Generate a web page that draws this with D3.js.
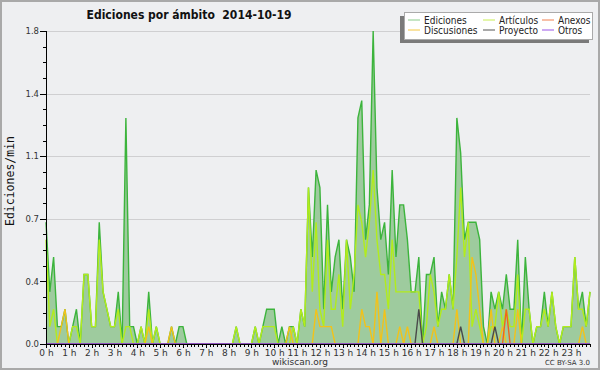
<!DOCTYPE html>
<html>
<head>
<meta charset="utf-8">
<style>
/*	page and chart styles	*/
body {
  margin: 0;
  background: #eeeff1;
}

.grid line {
  stroke: #cfcfd1;
  stroke-width: 1px;
}

.axis path,
.axis line {
  stroke: #000;
  shape-rendering: crispEdges;
}

.axis text {
  fill: #333;
  font-family: "DejaVu Sans", sans-serif;
}

.series {
  fill: none;
  stroke-width: 1.4px;
  stroke-linejoin: miter;
}

.legend text {
  font: 10px "DejaVu Sans Condensed", "DejaVu Sans", sans-serif;
  fill: #222;
}

.title {
  white-space: pre;
}
</style>
</head>
<body>
<svg id="chart" width="600" height="370"></svg>

<script src="https://cdn.jsdelivr.net/npm/d3@7"></script>
<script>

//	data: edits per minute, one value per 10 minutes, six per hour
var ediciones = [
  0.7, 0.3, 0.5, 0.1, 0.1, 0.2,
  0, 0.1, 0.2, 0, 0.4, 0.4,
  0.1, 0.1, 0.7, 0.3, 0.2, 0.1,
  0.1, 0.3, 0, 1.3, 0.1, 0.1,
  0, 0.1, 0, 0.3, 0, 0.1,
  0, 0, 0, 0.1, 0, 0.1,
  0.1, 0, 0, 0, 0, 0,
  0, 0, 0, 0, 0, 0,
  0, 0, 0.1, 0, 0, 0,
  0, 0.1, 0, 0.1, 0.2, 0.2,
  0.2, 0, 0.1, 0, 0.1, 0.1,
  0, 0.2, 0.1, 0.9, 0.5, 1.0,
  0.9, 0.2, 0.8, 0.3, 0.5, 0.6,
  0.2, 0.6, 0.5, 0.3, 1.3, 1.4,
  0.6, 0.8, 1.8, 0.9, 0.6, 0.7,
  0.4, 1.0, 0.5, 0.8, 0.8, 0.6,
  0.3, 0.3, 0.5, 0, 0.4, 0.4,
  0.5, 0.1, 0.3, 0.2, 0.4, 0.2,
  1.3, 1.1, 0.6, 0.7, 0.7, 0.7,
  0.6, 0.1, 0, 0.3, 0.2, 0.3,
  0.2, 0.4, 0.2, 0.2, 0.6, 0,
  0.5, 0.2, 0, 0.1, 0.1, 0.3,
  0.1, 0.3, 0.1, 0, 0.1, 0.1,
  0.1, 0.5, 0.2, 0.3, 0.1, 0.3
];

var articulos = [
  0.6, 0.1, 0.2, 0, 0, 0,
  0, 0.1, 0.1, 0, 0.4, 0.4,
  0.1, 0.1, 0.6, 0.3, 0.2, 0.1,
  0.1, 0.2, 0, 0.1, 0.1, 0,
  0, 0.1, 0, 0.2, 0, 0.1,
  0, 0, 0, 0, 0, 0,
  0, 0, 0, 0, 0, 0,
  0, 0, 0, 0, 0, 0,
  0, 0, 0.1, 0, 0, 0,
  0, 0.1, 0, 0.1, 0.1, 0.1,
  0.1, 0, 0, 0, 0, 0.1,
  0, 0.2, 0.1, 0.9, 0.3, 0.7,
  0.2, 0.1, 0.6, 0.2, 0.2, 0.4,
  0.1, 0.6, 0.2, 0.4, 0.8, 0.7,
  0.5, 0.7, 1.0, 0.6, 0.4, 0.4,
  0.2, 0.6, 0.3, 0.3, 0.3, 0.3,
  0.3, 0.3, 0.3, 0, 0.1, 0.4,
  0.3, 0.1, 0.2, 0.2, 0.4, 0.2,
  0.5, 0.9, 0.5, 0.7, 0.1, 0.2,
  0.1, 0, 0, 0.1, 0.1, 0.3,
  0.1, 0.2, 0.1, 0.1, 0.4, 0,
  0.2, 0.2, 0, 0.1, 0.1, 0.2,
  0.1, 0.3, 0.1, 0, 0.1, 0.1,
  0.1, 0.5, 0.2, 0.2, 0.1, 0.3
];

var discusiones = [
  0, 0, 0, 0, 0.1, 0.2,
  0, 0, 0, 0, 0, 0,
  0, 0, 0, 0, 0, 0,
  0, 0, 0, 0, 0, 0,
  0, 0, 0, 0.1, 0, 0,
  0, 0, 0, 0.1, 0, 0,
  0, 0, 0, 0, 0, 0,
  0, 0, 0, 0, 0, 0,
  0, 0, 0, 0, 0, 0,
  0, 0, 0, 0, 0, 0,
  0, 0, 0, 0, 0.1, 0,
  0, 0, 0, 0, 0, 0.2,
  0.1, 0.1, 0.1, 0.1, 0, 0,
  0, 0, 0, 0, 0, 0.2,
  0.1, 0.1, 0, 0.3, 0, 0.2,
  0, 0, 0, 0.1, 0, 0.1,
  0, 0, 0, 0, 0, 0,
  0.1, 0, 0, 0, 0, 0,
  0.2, 0, 0, 0, 0.5, 0.4,
  0.2, 0, 0, 0.2, 0, 0,
  0.1, 0, 0, 0, 0.2, 0,
  0, 0, 0, 0, 0, 0,
  0, 0, 0, 0, 0, 0,
  0, 0, 0, 0.1, 0, 0
];

var proyecto = [
  0, 0, 0, 0, 0, 0,
  0, 0, 0, 0, 0, 0,
  0, 0, 0, 0, 0, 0,
  0, 0, 0, 0, 0, 0,
  0, 0, 0, 0, 0, 0,
  0, 0, 0, 0, 0, 0,
  0, 0, 0, 0, 0, 0,
  0, 0, 0, 0, 0, 0,
  0, 0, 0, 0, 0, 0,
  0, 0, 0, 0, 0, 0,
  0, 0, 0, 0, 0, 0,
  0, 0, 0, 0, 0, 0,
  0, 0, 0, 0, 0, 0,
  0, 0, 0, 0, 0, 0,
  0, 0, 0, 0, 0, 0,
  0, 0, 0, 0, 0, 0,
  0, 0, 0.2, 0, 0, 0,
  0, 0, 0, 0, 0, 0,
  0, 0.1, 0, 0, 0, 0,
  0, 0, 0, 0, 0.1, 0,
  0, 0, 0, 0, 0, 0,
  0, 0, 0, 0, 0, 0,
  0, 0, 0, 0, 0, 0,
  0, 0, 0, 0, 0, 0
];

var anexos = [
  0, 0, 0, 0, 0, 0,
  0, 0, 0, 0, 0, 0,
  0, 0, 0, 0, 0, 0,
  0, 0, 0, 0, 0, 0,
  0, 0, 0, 0, 0, 0,
  0, 0, 0, 0, 0, 0,
  0, 0, 0, 0, 0, 0,
  0, 0, 0, 0, 0, 0,
  0, 0, 0, 0, 0, 0,
  0, 0, 0, 0, 0, 0,
  0, 0, 0, 0, 0, 0,
  0, 0, 0, 0, 0, 0,
  0, 0, 0, 0, 0, 0,
  0, 0, 0, 0, 0, 0,
  0, 0, 0, 0, 0, 0,
  0, 0, 0, 0, 0, 0,
  0, 0, 0, 0, 0, 0,
  0, 0, 0, 0, 0, 0,
  0, 0, 0, 0, 0, 0,
  0, 0, 0, 0, 0, 0,
  0, 0.2, 0, 0, 0, 0,
  0, 0, 0, 0, 0, 0,
  0, 0, 0, 0, 0, 0,
  0, 0, 0, 0, 0, 0
];

var otros = [
  0, 0, 0, 0, 0, 0,
  0, 0, 0, 0, 0, 0,
  0, 0, 0, 0, 0, 0,
  0, 0, 0, 0, 0, 0,
  0, 0, 0, 0, 0, 0,
  0, 0, 0, 0, 0, 0,
  0, 0, 0, 0, 0, 0,
  0, 0, 0, 0, 0, 0,
  0, 0, 0, 0, 0, 0,
  0, 0, 0, 0, 0, 0,
  0, 0, 0, 0, 0, 0,
  0, 0, 0, 0, 0, 0,
  0, 0, 0, 0, 0, 0,
  0, 0, 0, 0, 0, 0,
  0, 0, 0, 0, 0, 0,
  0, 0, 0, 0, 0, 0,
  0, 0, 0, 0, 0, 0,
  0, 0, 0, 0, 0, 0,
  0, 0, 0, 0, 0, 0,
  0, 0, 0, 0, 0, 0,
  0, 0, 0, 0, 0, 0,
  0, 0, 0, 0, 0, 0,
  0, 0, 0, 0, 0, 0,
  0, 0, 0, 0, 0, 0
];

var hours = d3.range(24);
var yTicks = [0, 0.36, 0.72, 1.08, 1.44, 1.8];

//	legend entries, in the picture's column order
var legendNames = ["Ediciones", "Discusiones", "Artículos", "Proyecto", "Anexos", "Otros"];
var legendColors = ["#8bcc8b", "#f5c842", "#c8ee55", "#555555", "#f08050", "#9b55e8"];

//	svg selection and sizing
var svg = d3.select("#chart"),
    width = 600,
    height = 370,
    margin = {left: 46, right: 10, top: 31, bottom: 26};

svg.append("rect")
    .attr("x", 1).attr("y", 1)
    .attr("width", width - 2).attr("height", height - 2)
    .attr("fill", "#eeeff1")
    .attr("stroke", "#a9a9a9")
    .attr("stroke-width", 2);

var x = d3.scaleLinear()
    .domain([0, ediciones.length - 1])
    .range([margin.left, width - margin.right]);

var y = d3.scaleLinear()
    .domain([0, 1.8])
    .range([height - margin.bottom, margin.top]);

//	horizontal grid
svg.append("g")
    .attr("class", "grid")
  .selectAll("line")
  .data(yTicks.slice(1))
  .enter().append("line")
    .attr("x1", x.range()[0])
    .attr("x2", x.range()[1])
    .attr("y1", function(d) { return Math.round(y(d)) + 0.5; })
    .attr("y2", function(d) { return Math.round(y(d)) + 0.5; });

//	area under total edits
var area = d3.area()
    .x(function(d, i) { return x(i); })
    .y0(y(0))
    .y1(function(d) { return y(d); });

svg.append("path")
    .datum(ediciones)
    .attr("fill", "#9ecb9e")
    .attr("d", area);

var line = d3.line()
    .x(function(d, i) { return x(i); })
    .y(function(d) { return y(d); });

var series = [
  {values: ediciones, color: "#3cb43c"},
  {values: articulos, color: "#b2ec1c"},
  {values: discusiones, color: "#f2c21a"},
  {values: anexos, color: "#f0641e"},
  {values: proyecto, color: "#4a4a4a"},
  {values: otros, color: "#9b55e8"}
];

svg.append("g").selectAll("path")
  .data(series)
  .enter().append("path")
    .attr("class", "series")
    .attr("stroke", function(d) { return d.color; })
    .attr("d", function(d) { return line(d.values); });

//	y axis, major and minor ticks
var yMinor = d3.range(0, 1.8001, 0.09);

svg.append("g")
    .attr("class", "axis")
    .attr("transform", "translate(" + margin.left + ",0)")
    .call(d3.axisLeft(y).tickValues(yMinor).tickSize(3).tickFormat(""))
    .call(function(g) { g.select(".domain").remove(); });

svg.append("g")
    .attr("class", "axis")
    .attr("transform", "translate(" + margin.left + ",0)")
    .call(d3.axisLeft(y).tickValues(yTicks).tickSize(6).tickPadding(1)
          .tickFormat(d3.format(".1f")))
    .call(function(g) {
      g.select(".domain").attr("d", "M0.5," + y(1.8) + "V" + (y(0) + 0.5));
      g.selectAll("text").attr("font-size", 8.5).attr("fill", "#444");
    });

//	x axis, 10 minute ticks and hour labels
svg.append("g")
    .attr("class", "axis")
    .attr("transform", "translate(0," + y(0) + ")")
    .call(d3.axisBottom(x).tickValues(d3.range(ediciones.length)).tickSize(3).tickFormat(""))
    .call(function(g) { g.select(".domain").attr("d", "M" + x(0) + ",0.5H" + (x.range()[1] + 1)); });

svg.append("g")
    .attr("class", "axis")
    .attr("transform", "translate(0," + y(0) + ")")
    .call(d3.axisBottom(x).tickValues(hours.map(function(h) { return h * 6; }))
          .tickSize(4).tickPadding(2)
          .tickFormat(function(d) { return (d / 6) + " h"; }))
    .call(function(g) {
      g.select(".domain").remove();
      g.selectAll("text").attr("font-size", 9).attr("fill", "#222");
    });

//	titles
svg.append("text")
    .attr("class", "title")
    .attr("x", 189)
    .attr("y", 19)
    .attr("text-anchor", "middle")
    .attr("font-family", "DejaVu Sans Condensed, DejaVu Sans, sans-serif")
    .attr("font-weight", "bold")
    .attr("font-size", 12)
    .attr("fill", "#111")
    .text("Ediciones por ámbito  2014-10-19");

svg.append("text")
    .attr("transform", "translate(14,181) rotate(-90)")
    .attr("text-anchor", "middle")
    .attr("font-family", "DejaVu Sans Mono, monospace")
    .attr("font-size", 11.5)
    .attr("fill", "#111")
    .text("Ediciones/min");

svg.append("text")
    .attr("x", 300)
    .attr("y", 365)
    .attr("text-anchor", "middle")
    .attr("font-family", "DejaVu Sans, sans-serif")
    .attr("font-size", 9)
    .attr("fill", "#333")
    .text("wikiscan.org");

svg.append("text")
    .attr("x", 590)
    .attr("y", 365)
    .attr("text-anchor", "end")
    .attr("font-family", "DejaVu Sans, sans-serif")
    .attr("font-size", 7)
    .attr("fill", "#333")
    .text("CC BY-SA 3.0");

//	legend with drop shadow
var legend = svg.append("g")
    .attr("class", "legend")
    .attr("transform", "translate(404,12)");

legend.append("rect")
    .attr("x", -4).attr("y", 4)
    .attr("width", 189).attr("height", 27)
    .attr("fill", "#7a7a7a");

legend.append("rect")
    .attr("x", 0.5).attr("y", 0.5)
    .attr("width", 188).attr("height", 27)
    .attr("fill", "#fff")
    .attr("stroke", "#aaa");

var colX = [4, 79, 138];

var item = legend.selectAll(".item")
  .data(legendNames)
  .enter().append("g")
    .attr("class", "item")
    .attr("transform", function(d, i) {
      return "translate(" + colX[Math.floor(i / 2)] + "," + (8 + (i % 2) * 10) + ")";
    });

item.append("line")
    .attr("x1", 0).attr("x2", 12)
    .attr("stroke", function(d, i) { return legendColors[i]; })
    .attr("stroke-width", 1);

item.append("text")
    .attr("x", 16)
    .attr("y", 3.5)
    .text(function(d) { return d; });

</script>
</body>
</html>
